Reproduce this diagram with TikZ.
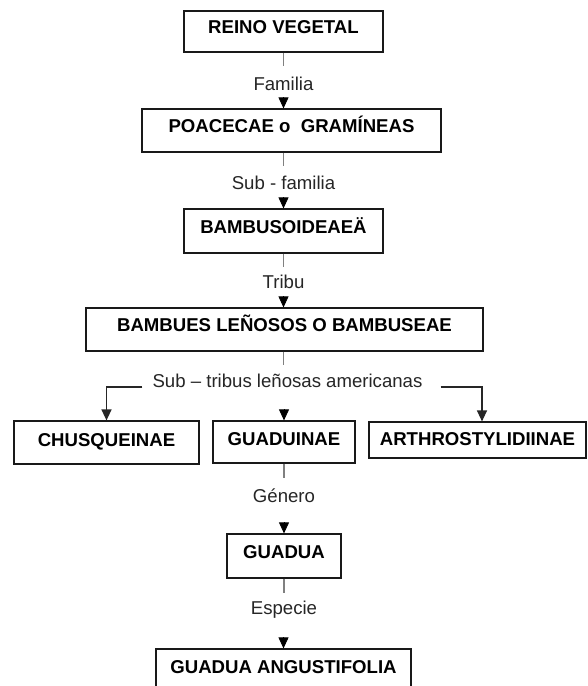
\documentclass[tikz,border=0pt]{standalone}
\usepackage{fontspec}
\setmainfont{Liberation Sans}
\usetikzlibrary{arrows.meta}
\begin{document}
\begin{tikzpicture}[x=1pt,y=-1pt,
  box/.style={draw=black!90, line width=1.2pt, font=\fontsize{18.6}{20}\selectfont\bfseries,
    inner sep=0pt, text height=13pt, text depth=8.1pt},
  lab/.style={font=\fontsize{18.6}{20}\selectfont, inner sep=0pt, anchor=base, text=black!85},
  stub/.style={draw=black!50, line width=1.4pt},
  tip/.style={draw=black, line width=0.8pt, -{Triangle[length=11pt,width=10pt]}},
  side/.style={draw=black!85, line width=1.3pt, -{Triangle[length=11pt,width=10pt]}}
]
\clip (0,0) rectangle (587,686);
\fill[white] (0,0) rectangle (587,686);

% boxes
\node[box, minimum width=199pt, minimum height=41pt] (reino) at (283.5,31.5) {REINO VEGETAL};
\node[box, minimum width=299pt, minimum height=43pt] (poa) at (291.5,130.5) {POACECAE o\ \ GRAMÍNEAS};
\node[box, minimum width=199pt, minimum height=44pt] (bambo) at (283.5,231) {BAMBUSOIDEAEÄ};
\node[box, minimum width=397pt, minimum height=43pt] (bambu) at (284.5,329.5) {BAMBUES LEÑOSOS O BAMBUSEAE};
\node[box, text depth=5.1pt, minimum width=185pt, minimum height=43pt] (chus) at (106.5,442.5) {CHUSQUEINAE};
\node[box, text depth=5.1pt, minimum width=142pt, minimum height=42pt] (guadi) at (284,442) {GUADUINAE};
\node[box, text depth=1.1pt, minimum width=217pt, minimum height=36pt] (arth) at (477.5,440) {ARTHROSTYLIDIINAE};
\node[box, minimum width=114pt, minimum height=44pt] (guadua) at (284,556) {GUADUA};
\node[box, minimum width=255pt, minimum height=44pt] (ang) at (283.5,671) {GUADUA ANGUSTIFOLIA};

% labels
\node[lab] (l1) at (283.5,90) {Familia};
\node[lab] (l2) at (283.5,189) {Sub - familia};
\node[lab] (l3) at (283.5,288) {Tribu};
\node[lab] (l4) at (287.5,387) {Sub – tribus leñosas americanas};
\node[lab] (l5) at (284,502) {Género};
\node[lab] (l6) at (284,614) {Especie};

% stubs
\draw[stub] (reino.south) -- ++(0,13);
\draw[stub] (poa.south -| reino.south) -- ++(0,13);
\draw[stub] (bambo.south) -- ++(0,13);
\draw[stub] (bambu.south -| reino.south) -- ++(0,13);
\draw[stub] (guadi.south) -- ++(0,14);
\draw[stub] (guadua.south) -- ++(0,14);

% arrow heads
\draw[tip] ([yshift=11pt]poa.north -| reino.south) -- (poa.north -| reino.south);
\draw[tip] ([yshift=11pt]bambo.north) -- (bambo.north);
\draw[tip] ([yshift=11pt]bambu.north -| reino.south) -- (bambu.north -| reino.south);
\draw[tip] ([yshift=11pt]guadi.north) -- (guadi.north);
\draw[tip] ([yshift=11pt]guadua.north) -- (guadua.north);
\draw[tip] ([yshift=11pt]ang.north) -- (ang.north);

% side branches
\draw[side] ([xshift=-10pt]l4.base west) -| (chus.north);
\draw[side] ([xshift=18pt]l4.base east) -| ([xshift=4.5pt]arth.north);
\end{tikzpicture}
\end{document}
